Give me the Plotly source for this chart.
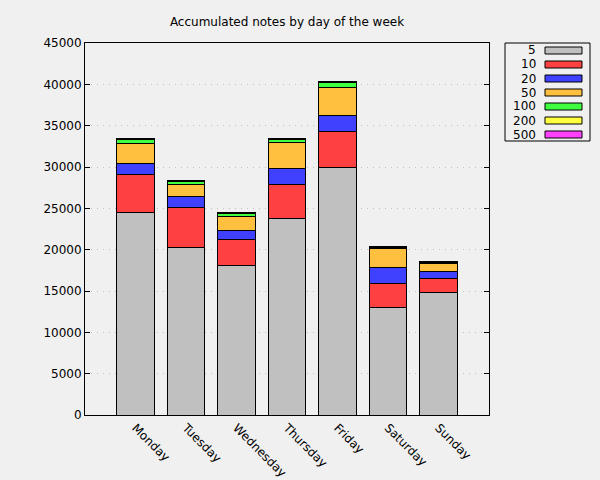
import plotly.graph_objects as go

days = ["Monday", "Tuesday", "Wednesday", "Thursday", "Friday", "Saturday", "Sunday"]
series_names = ["5", "10", "20", "50", "100", "200", "500"]
notes_5 = [24500, 20300, 18100, 23800, 29950, 13050, 14850]
notes_10 = [4600, 4850, 3150, 4100, 4350, 2900, 1700]
notes_20 = [1350, 1300, 1100, 1950, 1950, 1900, 850]
notes_50 = [2400, 1450, 1650, 3150, 3400, 2250, 950]
notes_100 = [450, 350, 350, 300, 600, 200, 100]
notes_200 = [150, 120, 130, 170, 50, 100, 80]
notes_500 = [30, 20, 20, 30, 10, 20, 20]
series_values = [notes_5, notes_10, notes_20, notes_50, notes_100, notes_200, notes_500]
colors = ["#c0c0c0", "#ff4040", "#4040ff", "#ffc040", "#40ff40", "#ffff40", "#ff40ff"]
y_ticks = [0, 5000, 10000, 15000, 20000, 25000, 30000, 35000, 40000, 45000]

FONT = "DejaVu Sans, Liberation Sans, sans-serif"
L, R, T, B = 85, 489, 43, 415
W, H = 600, 480

fig = go.Figure()
for name, vals, col in zip(series_names, series_values, colors):
    fig.add_trace(go.Bar(
        x=list(range(len(days))), y=vals, name=name,
        marker=dict(color=col, line=dict(color="black", width=1)),
        width=0.75, showlegend=False, hoverinfo="skip",
    ))

# custom gnuplot-style legend
def px_to_paper_x(px):
    return (px - L) / (R - L)

def px_to_paper_y(py):
    return (B - py) / (B - T)

shapes = [dict(type="rect", xref="paper", yref="paper",
               x0=px_to_paper_x(505), x1=px_to_paper_x(590),
               y0=px_to_paper_y(141), y1=px_to_paper_y(43),
               line=dict(color="black", width=1), fillcolor="rgba(0,0,0,0)")]
annotations = []
for i, (name, col) in enumerate(zip(series_names, colors)):
    cy = 50.5 + 14 * i
    annotations.append(dict(xref="paper", yref="paper", x=px_to_paper_x(538),
                            y=px_to_paper_y(cy), text=name, showarrow=False,
                            xanchor="right", yanchor="middle",
                            font=dict(family=FONT, size=12, color="black")))
    shapes.append(dict(type="rect", xref="paper", yref="paper",
                       x0=px_to_paper_x(545), x1=px_to_paper_x(582),
                       y0=px_to_paper_y(cy + 3.5), y1=px_to_paper_y(cy - 3.5),
                       line=dict(color="black", width=1), fillcolor=col))

fig.update_layout(
    width=W, height=H,
    barmode="stack", bargap=0.25,
    paper_bgcolor="#f0f0f0", plot_bgcolor="#f0f0f0",
    margin=dict(l=L, r=W - R, t=T, b=H - B, pad=0, autoexpand=False),
    title=dict(text="Accumulated notes by day of the week", x=(L + R) / 2 / W,
               xanchor="center", y=1 - 22 / H, yanchor="middle",
               font=dict(family=FONT, size=12, color="black")),
    font=dict(family=FONT, size=12, color="black"),
    shapes=shapes, annotations=annotations,
    showlegend=False,
)
fig.update_xaxes(
    range=[-1, len(days)], tickmode="array", tickvals=list(range(len(days))),
    ticktext=days, tickangle=45, ticks="", showgrid=False, zeroline=False,
    showline=True, linecolor="black", linewidth=1, mirror=True, automargin=False,
    tickfont=dict(family=FONT, size=12, color="black"),
)
fig.update_yaxes(
    range=[0, 45000], tickmode="array", tickvals=y_ticks,
    ticktext=[str(v) for v in y_ticks],
    ticks="inside", ticklen=5, tickcolor="black", tickwidth=1,
    showline=True, linecolor="black", linewidth=1, mirror="ticks", automargin=False,
    showgrid=True, gridcolor="#c0c0c0", griddash="1px,5px", gridwidth=1,
    zeroline=False, tickfont=dict(family=FONT, size=12, color="black"),
)
fig.write_html(
    "out.html",
    config={"displayModeBar": False},
    post_script="document.body.style.margin='0';document.body.style.overflow='hidden';"
                "document.body.style.background='#f0f0f0';",
)
